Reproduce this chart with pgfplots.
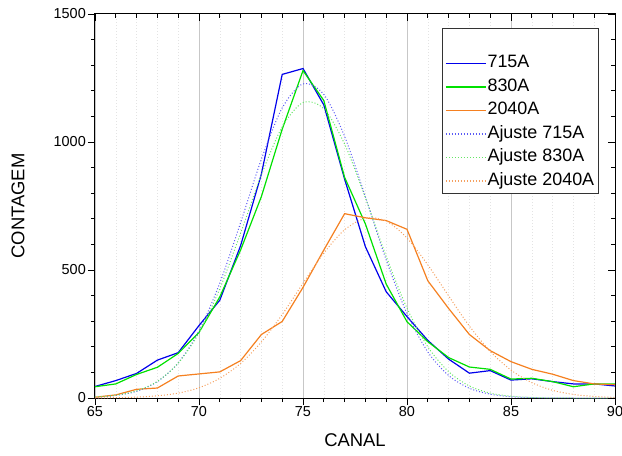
\documentclass[border=0pt]{standalone}
\usepackage{fontspec}
\setmainfont{Liberation Sans}
\usepackage{pgfplots}
\pgfplotsset{compat=1.18}
\definecolor{cblue}{RGB}{0,0,235}
\definecolor{cgreen}{RGB}{0,225,0}
\definecolor{corange}{RGB}{245,128,32}
\definecolor{fblue}{RGB}{90,90,245}
\definecolor{fgreen}{RGB}{100,230,100}
\definecolor{forange}{RGB}{245,160,95}
\begin{document}
\begin{tikzpicture}
\path[use as bounding box] (-95bp,-58bp) rectangle (527bp,398bp);
\begin{axis}[
  at={(0,0)}, anchor=south west, scale only axis,
  width=520bp, height=384bp,
  xmin=65, xmax=90, ymin=0, ymax=1500,
  xtick={65,70,...,90}, ytick={0,500,1000,1500},
  minor x tick num=4, minor y tick num=4,
  tick align=outside, tick pos=left,
  major tick length=7bp, minor tick length=4bp,
  xmajorgrids, xminorgrids,
  major grid style={color=black!22, line width=0.9bp},
  minor grid style={color=black!11, dash pattern=on 1bp off 2bp, line width=0.5bp},
  axis line style={line width=1bp},
  every tick/.style={black, line width=0.8bp},
  tick label style={font=\fontsize{14.5}{16}\selectfont},
  xticklabel style={inner sep=1.5bp},
  yticklabel style={inner sep=2bp},
  /pgf/number format/assume math mode=true,
  /pgf/number format/1000 sep={},
  scaled y ticks=false,
  xlabel={CANAL}, ylabel={CONTAGEM},
  label style={font=\fontsize{18.5}{21}\selectfont},
  xlabel style={at={(axis description cs:0.5,-0.11)}, anchor=center},
  ylabel style={at={(axis description cs:-0.148,0.5)}, anchor=center},
  legend cell align=left,
  legend style={at={(axis description cs:0.667,0.964)}, anchor=north west,
    draw=black!80, line width=0.6bp, font=\fontsize{18}{21}\selectfont,
    inner xsep=3bp, inner ysep=2bp, row sep=3.5bp,
    nodes={inner sep=1bp, text height=13bp, text depth=5bp}},
  legend image code/.code={\draw[#1, line width=1.4bp] (0bp,0bp) -- (40bp,0bp);},
]
\addlegendimage{empty legend}
\addlegendentry{}
\addplot[cblue, line width=1.2bp] table {
x y
65 45
66 68
67 96
68 148
69 177
70 283
71 382
72 595
73 875
74 1264
75 1287
76 1145
77 855
78 591
79 415
80 318
81 225
82 152
83 97
84 107
85 70
86 75
87 64
88 55
89 55
90 47
};
\addlegendentry{715A}
\addplot[cgreen, line width=1.2bp] table {
x y
65 44
66 55
67 92
68 120
69 174
70 256
71 395
72 578
73 787
74 1050
75 1279
76 1162
77 862
78 680
79 445
80 298
81 220
82 158
83 121
84 112
85 74
86 77
87 64
88 44
89 55
90 55
};
\addlegendentry{830A}
\addplot[corange, line width=1.2bp] table {
x y
65 3
66 12
67 34
68 39
69 86
70 94
71 102
72 146
73 248
74 299
75 432
76 578
77 720
78 704
79 693
80 659
81 458
82 350
83 248
84 185
85 142
86 112
87 93
88 68
89 55
90 52
};
\addlegendentry{2040A}
\addplot[fblue, line width=1bp, dash pattern=on 1bp off 2bp, smooth] table {
x y
65 3
66 10
67 26
68 64
69 137
70 262
71 449
72 685
73 933
74 1133
75 1227
76 1186
77 1022
78 786
79 539
80 330
81 180
82 88
83 38
84 15
85 5
86 1.5
87 0.4
88 0
89 0
90 0
};
\addlegendentry{Ajuste 715A}
\addplot[fgreen, line width=1bp, dash pattern=on 1bp off 2bp, smooth] table {
x y
65 4
66 11
67 28
68 65
69 136
70 254
71 427
72 644
73 872
74 1059
75 1154
76 1130
77 992
78 782
79 553
80 351
81 200
82 103
83 47
84 19
85 7
86 2
87 0.6
88 0
89 0
90 0
};
\addlegendentry{Ajuste 830A}
\addplot[forange, line width=1bp, dash pattern=on 1bp off 2bp, smooth] table {
x y
65 0.4
66 1.3
67 3.5
68 8.5
69 19
70 40
71 77
72 135
73 219
74 326
75 448
76 566
77 657
78 702
79 691
80 625
81 520
82 399
83 281
84 182
85 109
86 60
87 30
88 14
89 6
90 2.3
};
\addlegendentry{Ajuste 2040A}
\end{axis}
\begin{axis}[
  at={(0,0)}, anchor=south west, scale only axis,
  width=520bp, height=384bp,
  xmin=65, xmax=90, ymin=0, ymax=1500,
  axis x line*=top, axis y line*=right,
  xtick={65,70,...,90}, ytick={0,500,1000,1500},
  minor x tick num=4, minor y tick num=4,
  tick align=inside,
  xticklabels={}, yticklabels={},
  major tick length=7bp, minor tick length=4bp,
  axis line style={line width=1bp},
  every tick/.style={black, line width=0.8bp},
]
\end{axis}
\end{tikzpicture}
\end{document}
